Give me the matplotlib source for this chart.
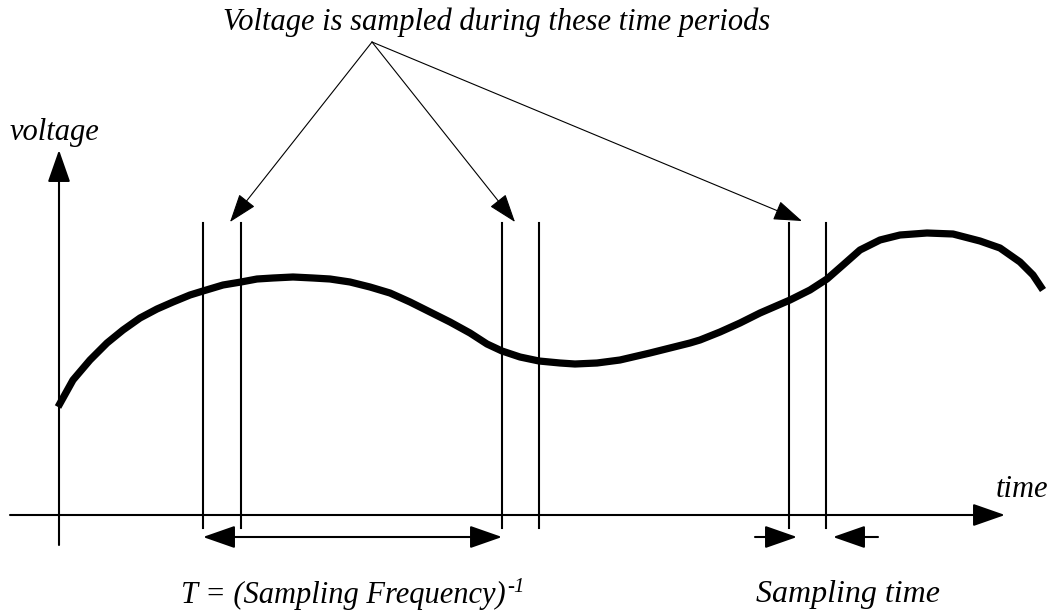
import matplotlib
matplotlib.use('Agg')
import matplotlib.pyplot as plt
from matplotlib.patches import FancyArrowPatch

plt.rcParams['font.family'] = ['Liberation Serif', 'DejaVu Serif']

# sampled voltage curve (x, y) in picture units, y grows downward
curve_x = [58, 73, 90, 107, 123, 140, 157, 173, 190, 203, 223, 241, 257, 273, 293, 313,
           330, 350, 370, 390, 410, 430, 450, 470, 487, 502, 520, 539, 560, 575, 597,
           620, 650, 670, 690, 700, 720, 740, 760, 790, 810, 827, 843, 860, 880, 900,
           927, 953, 980, 1000, 1020, 1033, 1043]
curve_y = [407, 380, 360, 343, 330, 318, 309, 302, 295, 291, 285, 282, 279, 278, 277, 278,
           279, 282, 287, 293, 302, 312, 322, 333, 344, 351, 357, 361, 363, 364, 363,
           360, 353, 348, 343, 340, 332, 323, 313, 300, 290, 279, 265, 250, 240, 235,
           233, 234, 241, 248, 262, 275, 290]

# sampling window edges
window_x = [203, 241, 502, 539, 789, 826]
window_top = 223
window_bottom = 528

# label callout
callout_src = (372, 42)
callout_tips = [(230, 222), (515, 222), (802, 221)]

fig = plt.figure(figsize=(10.54, 6.11), dpi=100)
ax = fig.add_axes([0, 0, 1, 1])
ax.set_xlim(0, 1054)
ax.set_ylim(611, 0)
ax.axis('off')

head = '-|>,head_length=1.0,head_width=0.35'

def arrow(p0, p1, lw=1.5, style=head, ms=20):
    a = FancyArrowPatch(p0, p1, arrowstyle=style, mutation_scale=ms,
                        linewidth=lw, color='black', shrinkA=0, shrinkB=0)
    ax.add_patch(a)

# axes
arrow((59, 545), (59, 150))
arrow((10, 515), (1005, 515))

# window lines
for x in window_x:
    ax.plot([x, x], [window_top, window_bottom], color='black', lw=1.5)

# curve
ax.plot(curve_x, curve_y, color='black', lw=5.2, solid_capstyle='butt',
        solid_joinstyle='round')

# callout arrows
for tip in callout_tips:
    arrow(callout_src, tip, lw=0.8, ms=18)

# period double arrow
arrow((203, 537), (502, 537), style='<|-|>,head_length=1.0,head_width=0.35')

# sampling time arrows
arrow((755, 537), (797, 537))
arrow((878, 537), (833, 537))

fs = 22
ax.text(497, 30, 'Voltage is sampled during these time periods', fontsize=fs,
        style='italic', ha='center', va='baseline')
ax.text(10, 140, 'voltage', fontsize=fs, style='italic', ha='left', va='baseline')
ax.text(1048, 497, 'time', fontsize=fs, style='italic', ha='right', va='baseline')
t = ax.text(181, 603, 'T = (Sampling Frequency)', fontsize=fs, style='italic',
            ha='left', va='baseline')
ax.annotate('-1', xy=(1, 1), xycoords=t, fontsize=15, style='italic',
            ha='left', va='top', xytext=(1, 2), textcoords='offset points')
ax.text(756, 602, 'Sampling time', fontsize=23, style='italic', ha='left', va='baseline')

fig.savefig('out.png', dpi=100, facecolor='white')
